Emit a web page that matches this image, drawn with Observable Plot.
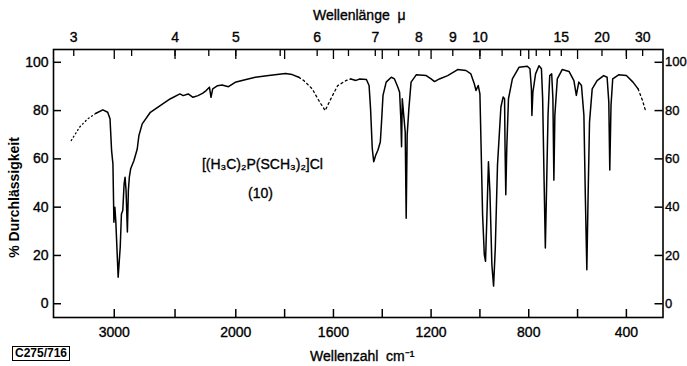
<!DOCTYPE html>
<html><head><meta charset="utf-8">
<script src="https://cdn.jsdelivr.net/npm/d3@7"></script>
<script src="https://cdn.jsdelivr.net/npm/@observablehq/plot@0.6"></script>
<style>
html,body{margin:0;padding:0;background:#fff;}
#chart{position:relative;width:687px;height:366px;overflow:hidden;}
#code{position:absolute;left:12px;top:346px;font:bold 12px "Liberation Sans",sans-serif;border:1.5px solid #000;padding:0 2px;line-height:13px;}
</style></head><body><div id="chart"><div id="code">C275/716</div></div>
<script>
// ---- data: [wavenumber cm^-1, % transmittance] ----
const dottedHigh = [[3354,67.6],[3286,73.1],[3218,76.6],[3150,78.9]];
const solidHigh = [[3150,78.9],[3094,80.3],[3054,79.3],[3035,76.6],[3022,63.4],[3011,57.9],[3003,33.8],[2995,40],[2987,33.8],[2968,11],[2951,23.4],[2941,37.2],[2930,38.6],[2919,49.7],[2911,52.4],[2903,46.9],[2892,29.7],[2884,46.9],[2876,52.4],[2865,55.9],[2838,59.3],[2811,64.1],[2797,69.7],[2770,74.5],[2703,79.3],[2622,82.1],[2541,84.8],[2460,86.9],[2433,86.2],[2392,86.9],[2352,85.5],[2311,86.2],[2271,87.2],[2244,88.3],[2217,89.7],[2204,85.5],[2190,89],[2150,90.3],[2114,90.6],[2060,89.9],[2005,91.7],[1962,92.8],[1920,93.8],[1865,94.5],[1797,95.4],[1769,94.9],[1742,93.8]];
const dottedMid = [[1742,93.8],[1721,92.4],[1687,89],[1659,84],[1634,80],[1611,84.8],[1583,90.3],[1549,92.4],[1529,93.1]];
const solidLow = [[1529,93.1],[1508,92.5],[1492,93.1],[1465,92.9],[1454,90.4],[1448,80.8],[1441,64.3],[1435,58.8],[1427,61.5],[1418,63.6],[1408,67],[1403,75.3],[1397,86.3],[1384,91.8],[1363,93.8],[1350,93.1],[1336,89.7],[1329,87.6],[1324,76.6],[1321,65],[1318,84.9],[1312,78],[1306,71.2],[1302,35.4],[1298,69.8],[1291,80.8],[1282,91.8],[1261,94.8],[1220,94.5],[1200,93.1],[1186,92],[1166,93.1],[1132,94.5],[1091,97],[1057,96.6],[1037,95.2],[1023,91.1],[1016,88.3],[1007,90.4],[1000,86.9],[995,64.3],[989,36.8],[982,20.3],[977,17.6],[972,34.1],[965,58.8],[959,46.4],[951,16.2],[944,7.3],[937,23.1],[928,57.4],[914,81.5],[905,85.6],[899,84.9],[897,64.3],[894,45.1],[890,64.3],[883,84.9],[867,93.1],[840,97.9],[806,98.4],[795,97.3],[789,89],[787,78],[783,87.6],[772,95.2],[758,98.6],[748,97.3],[743,84.9],[737,50.5],[732,23.1],[727,47.8],[721,78],[714,94.5],[706,95.2],[701,84.9],[697,51.2],[693,78],[683,93.1],[663,97],[635,96.2],[615,92.4],[605,86.3],[595,91.8],[584,90.4],[574,78],[568,43.7],[562,14.1],[557,43.7],[551,75.3],[540,89],[520,92.4],[493,94.5],[479,93.8],[472,83.5],[468,55.4],[463,82.1],[456,93.1],[432,94.8],[400,94.5],[373,91.8],[352,89]];
const dottedLow = [[352,89],[334,84.2],[320,79.4]];

// ---- axes ----
const bottomTicks = [3000,2500,2000,1800,1600,1400,1200,1000,800,600,400];
const bottomLabels = [3000,2000,1600,1200,800,400];
const topTicksMicron = [3,3.5,4,4.5,5,5.5,6,6.5,7,7.5,8,9,10,11,12,13,14,15,20,25,30];
const topLabelsMicron = [3,4,5,6,7,8,9,10,15,20,30];
const yTicks = [0,20,40,60,80,100];
const note = [{wn:1891, t:57.5, label:"[(H₃C)₂P(SCH₃)₂]Cl"},{wn:1899, t:45.8, label:"(10)"}];

const font = "Liberation Sans, Arial, sans-serif";
const seg = (arr) => arr.map(([wn,t]) => ({wn,t}));
const ink = {fill: "#000", stroke: "#000", strokeWidth: 0.35};

const plot = Plot.plot({
  width: 687, height: 366,
  marginLeft: 53, marginRight: 24.5, marginTop: 49, marginBottom: 49,
  style: {fontFamily: font, fontSize: "14px", color: "#000", background: "#fff"},
  x: {type: "linear", domain: [3500, 2000, 250], range: [53, 235.3, 662.5], axis: null},
  y: {domain: [-5.7, 105.3], range: [317, 49], axis: null},
  marks: [
    Plot.frame({stroke: "#000", strokeWidth: 1.6}),
    Plot.tickX(bottomTicks, {x: d => d, insetTop: 260, strokeWidth: 1.5}),
    Plot.tickX(bottomTicks, {x: d => d, insetBottom: 258, strokeWidth: 1.3}),
    Plot.tickX(topTicksMicron, {x: d => 10000 / d, insetBottom: 261, strokeWidth: 1.3}),
    Plot.tickY(yTicks, {y: d => d, insetRight: 601.5, strokeWidth: 1.5}),
    Plot.tickY(yTicks, {y: d => d, insetLeft: 601.5, strokeWidth: 1.5}),
    Plot.text(bottomLabels, {x: d => d, text: d => String(d), frameAnchor: "bottom", lineAnchor: "middle", dy: 15, fontSize: 14, ...ink}),
    Plot.text(topLabelsMicron, {x: d => 10000 / d, text: d => String(d), frameAnchor: "top", lineAnchor: "middle", dy: -12, fontSize: 14, ...ink}),
    Plot.text(yTicks, {y: d => d, text: d => String(d), frameAnchor: "left", lineAnchor: "middle", dx: -5, textAnchor: "end", fontSize: 14, ...ink}),
    Plot.text(yTicks, {y: d => d, text: d => String(d), frameAnchor: "right", lineAnchor: "middle", dx: 2, textAnchor: "start", fontSize: 13, ...ink}),
    Plot.text(["Wellenlänge  μ"], {frameAnchor: "top", lineAnchor: "middle", dy: -34, dx: 1, fontSize: 14, ...ink}),
    Plot.text(["Wellenzahl  cm⁻¹"], {frameAnchor: "bottom", lineAnchor: "middle", dy: 39, dx: 4, fontSize: 14, ...ink}),
    Plot.text(["% Durchlässigkeit"], {frameAnchor: "left", textAnchor: "middle", lineAnchor: "middle", dx: -39, dy: 14, rotate: -90, fontSize: 14, fontWeight: "bold", fill: "#000"}),
    Plot.text(note, {x: "wn", y: "t", text: "label", fontSize: 14, ...ink}),
    Plot.line(seg(dottedHigh), {x: "wn", y: "t", stroke: "#000", strokeWidth: 1.3, strokeDasharray: "1,3"}),
    Plot.line(seg(dottedMid), {x: "wn", y: "t", stroke: "#000", strokeWidth: 1.3, strokeDasharray: "2,3"}),
    Plot.line(seg(dottedLow), {x: "wn", y: "t", stroke: "#000", strokeWidth: 1.3, strokeDasharray: "2,3"}),
    Plot.line(seg(solidHigh), {x: "wn", y: "t", stroke: "#000", strokeWidth: 1.5, curve: "linear"}),
    Plot.line(seg(solidLow), {x: "wn", y: "t", stroke: "#000", strokeWidth: 1.5, curve: "linear"})
  ]
});
document.getElementById("chart").prepend(plot);
</script>
</body></html>
